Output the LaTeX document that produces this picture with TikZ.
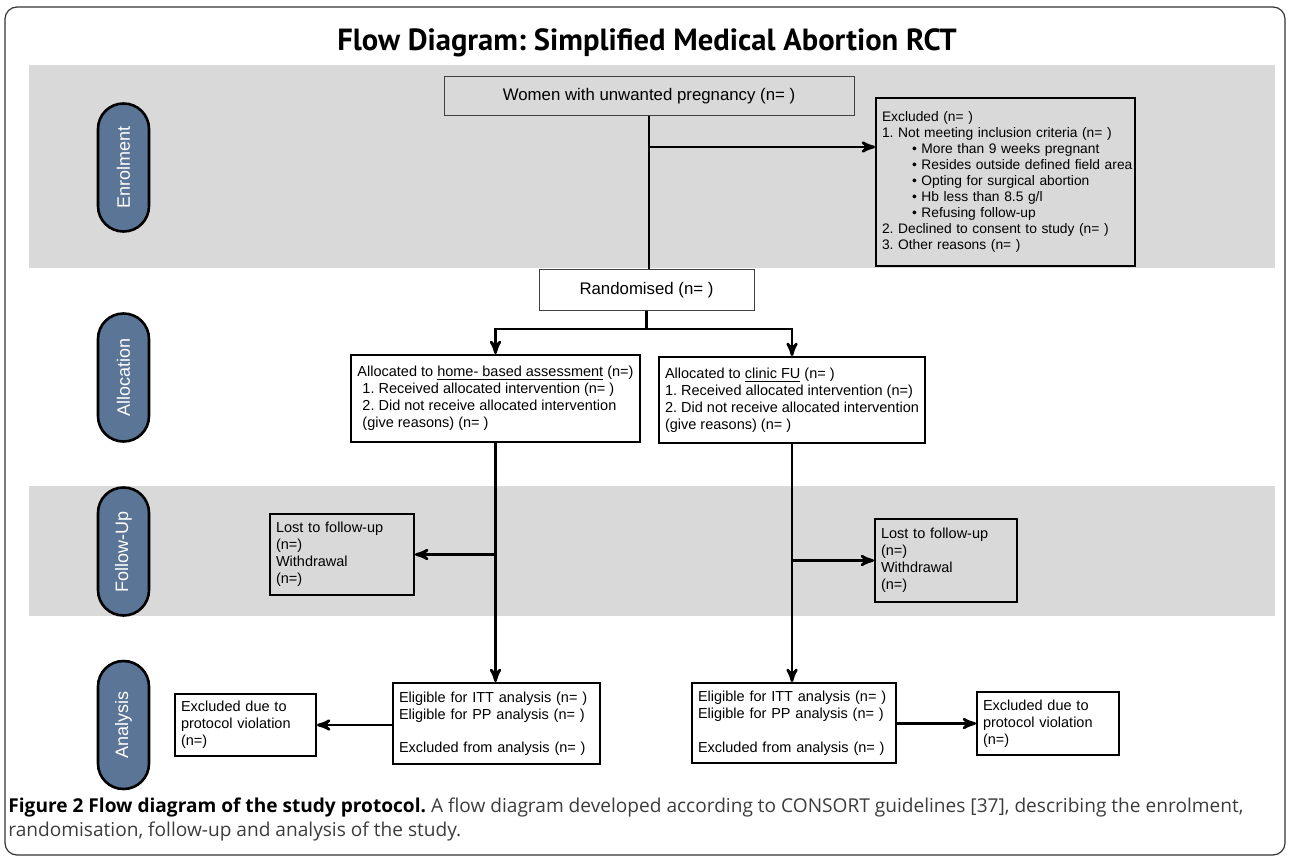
\documentclass[tikz,border=0pt]{standalone}
\usepackage{fontspec}
\setmainfont{Liberation Sans}
\newfontfamily\titlefont{PT Sans}
\newfontfamily\capfont{Open Sans}
\usepackage{tikz}
\usetikzlibrary{arrows,positioning,calc}
\definecolor{bandgray}{RGB}{217,217,217}
\definecolor{pillblue}{RGB}{91,117,150}
\definecolor{capgray}{RGB}{60,60,60}
\tikzset{box/.style={draw=black,line width=1pt,fill=white,inner xsep=3pt,inner ysep=2pt,align=left,font=\fontsize{7.25}{8.5}\selectfont}}
\tikzset{thinbox/.style={draw=black!75,line width=0.5pt,fill=white,align=center,font=\fontsize{8.4}{10}\selectfont}}
\tikzset{phase/.style={draw=black,line width=1.3pt,fill=pillblue,rounded corners=12.7pt,minimum width=64pt,minimum height=25.5pt,rotate=90,text=white,font=\fontsize{9}{10}\selectfont}}
\frenchspacing

\begin{document}
\begin{tikzpicture}[x=0.5pt, y=-0.5pt, >=stealth', link/.style={line width=1.3pt}]
\useasboundingbox (0,0) rectangle (1290,861);
    % frame and grey bands
    \draw[black!80,line width=0.6pt,rounded corners=6pt] (5,7) rectangle (1285,855);
    \fill[bandgray] (29,65) rectangle (1275,268);
    \fill[bandgray] (29,486) rectangle (1275,616);
    \node[font=\titlefont\bfseries\fontsize{15.3}{17}\selectfont] (title) at (647,43) {Flow Diagram: Simplified Medical Abortion RCT};
    % phase labels
    \node[phase] (enrol) at (123.5,167.5) {Enrolment};
    \node[phase] (alloc) at (123.5,377.5) {Allocation};
    \node[phase] (follow) at (123.5,551.5) {Follow-Up};
    \node[phase] (analysis) at (123.5,725) {Analysis};
    % boxes
    \node[thinbox, fill=bandgray, minimum width=205pt, minimum height=19.5pt] (women) at (649,96.5) {Women with unwanted pregnancy (n= )};
    \node[box, fill=bandgray, minimum width=129.5pt, minimum height=84pt, text width=123.5pt, font=\fontsize{6.9}{8}\selectfont] (excl) at (1005.5,182) {Excluded (n= )\\
        1. Not meeting inclusion criteria (n= )\\
        \hspace*{15pt}• More than 9 weeks pregnant\\
        \hspace*{15pt}\mbox{• Resides outside defined field area}\\
        \hspace*{15pt}• Opting for surgical abortion\\
        \hspace*{15pt}• Hb less than 8.5 g/l\\
        \hspace*{15pt}• Refusing follow-up\\
        2. Declined to consent to study (n= )\\
        3. Other reasons (n= )};
    \node[thinbox, minimum width=107.5pt, minimum height=20pt] (rand) at (646.5,290) {Randomised (n= )};
    \node[box, minimum width=142.5pt, minimum height=43.5pt] (homealloc) at (495.5,398.5) {Allocated to \underline{home- based assessment} (n=)\\
        \hspace*{2.5pt}1. Received allocated intervention (n= )\\
        \hspace*{2.5pt}2. Did not receive allocated intervention\\
        \hspace*{2.5pt}(give reasons) (n= )};
    \node[box, minimum width=130pt, minimum height=43pt] (clinicalloc) at (792,400) {Allocated to \underline{clinic FU} (n= )\\
        1. Received allocated intervention (n=)\\
        2. Did not receive allocated intervention\\
        (give reasons) (n= )};
    \node[box, fill=bandgray, minimum width=72pt, minimum height=40.5pt, text width=66pt] (homelost) at (342,554.5) {Lost to follow-up\\ (n=)\\ Withdrawal\\ (n=)};
    \node[box, fill=bandgray, minimum width=71pt, minimum height=41.5pt, text width=65pt] (cliniclost) at (946,560.5) {Lost to follow-up\\ (n=)\\ Withdrawal\\ (n=)};
    \node[box, minimum width=103.5pt, minimum height=40.5pt, text width=97.5pt] (homeelig) at (496.5,723.5) {Eligible for ITT analysis (n= )\\ Eligible for PP analysis (n= )\\[8.25pt] Excluded from analysis (n= )};
    \node[box, minimum width=102pt, minimum height=40pt, text width=96pt] (clinicelig) at (794,723) {Eligible for ITT analysis (n= )\\ Eligible for PP analysis (n= )\\[8.25pt] Excluded from analysis (n= )};
    \node[box, minimum width=70.5pt, minimum height=31pt, text width=64.5pt] (homeexcl) at (245.5,725) {Excluded due to\\ protocol violation\\ (n=)};
    \node[box, minimum width=71pt, minimum height=31.5pt, text width=65pt] (clinicexcl) at (1048,723.5) {Excluded due to\\ protocol violation\\ (n=)};
    % connectors
    \coordinate (exitpt) at (649,147);
    \coordinate (split) at (646.5,329);
    \draw[link] (women.south) -- (women.south |- rand.north);
    \draw[link,->] (exitpt) -- (exitpt -| excl.west);
    \draw[link] (rand.south) -- (split);
    \draw[link,->] (split) -| (homealloc.north);
    \draw[link,->] (split) -| (clinicalloc.north);
    \draw[link,->] (homealloc.south) -- (homealloc.south |- homeelig.north);
    \draw[link,->] (clinicalloc.south) -- (clinicalloc.south |- clinicelig.north);
    \draw[link,->] (homealloc.south |- homelost.east) -- (homelost.east);
    \draw[link,->] (clinicalloc.south |- cliniclost.west) -- (cliniclost.west);
    \draw[link,->] (homeelig.west |- homeexcl.east) -- (homeexcl.east);
    \draw[link,->] (clinicelig.east |- clinicexcl.west) -- (clinicexcl.west);
    % caption
    \node[anchor=north west, align=left, inner sep=0pt, font=\capfont\fontsize{9.55}{12}\selectfont] (caption) at (8,797) {\textbf{Figure 2 Flow diagram of the study protocol.} \textcolor{capgray}{A flow diagram developed according to CONSORT guidelines [37], describing the enrolment,}\\ \textcolor{capgray}{randomisation, follow-up and analysis of the study.}};
\end{tikzpicture}
\end{document}
